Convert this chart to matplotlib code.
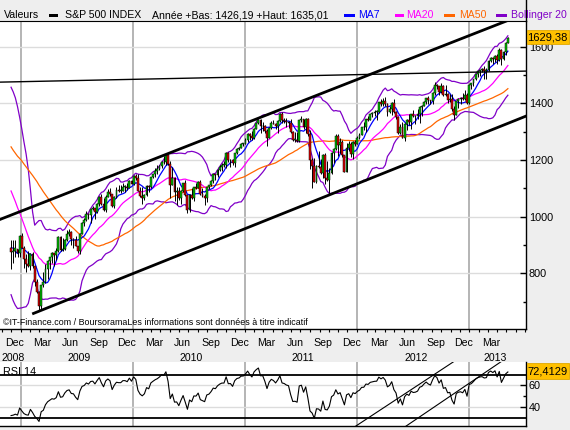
import numpy as np
import pandas as pd
import matplotlib
matplotlib.use('Agg')
import matplotlib.pyplot as plt
import matplotlib.dates as mdates
from matplotlib.patches import Rectangle
from matplotlib.lines import Line2D

plt.rcParams['font.family'] = ['Liberation Sans', 'DejaVu Sans']

# ---------------- data (weekly S&P 500) ----------------
first_week = '2008-12-01'
# closes before the visible window (used only to warm up the indicators)
hist_closes = [1510, 1454, 1459, 1441, 1481, 1505, 1468, 1484, 1478,
               1412, 1401, 1325, 1331, 1395, 1331, 1350, 1353, 1331, 1293, 1288, 1330,
               1315, 1370, 1333, 1390, 1398, 1414, 1388, 1425, 1376, 1400, 1361, 1360,
               1318, 1278, 1263, 1239, 1261, 1258, 1260, 1296, 1298, 1292, 1283, 1242,
               1252, 1255, 1213, 1099, 899, 941, 877, 969, 931, 873, 800, 896]

opens = [888, 876, 880, 887,
         873, 932, 890, 850, 832, 826, 869, 827, 770, 735, 683, 757, 769, 816, 843, 857, 870, 866,
         878, 929, 883, 887, 919, 940, 946, 921, 919, 896, 879, 940, 979, 987, 1010, 1004, 1026,
         1029, 1016, 1043, 1068, 1044, 1025, 1071, 1088, 1080, 1036, 1069, 1093, 1091, 1091, 1106,
         1106, 1102, 1126,
         1115, 1145, 1136, 1092, 1074, 1066, 1076, 1109, 1104, 1139, 1150, 1160, 1167, 1178, 1194,
         1192, 1217, 1187, 1111, 1136, 1088, 1089, 1065, 1092, 1118, 1077, 1023, 1078, 1065, 1103,
         1102, 1122, 1079, 1072, 1065, 1105, 1110, 1126, 1149, 1146, 1165, 1176, 1183, 1183, 1226,
         1199, 1200, 1189, 1225, 1240, 1244, 1257,
         1258, 1272, 1293, 1283, 1276, 1311, 1329, 1343, 1320, 1321, 1304, 1279, 1314, 1332, 1328,
         1320, 1337, 1364, 1340, 1338, 1333, 1331, 1300, 1271, 1272, 1268, 1340, 1344, 1316, 1345,
         1292, 1199, 1179, 1124, 1177, 1174, 1154, 1216, 1136, 1131, 1155, 1225, 1238, 1285, 1253,
         1264, 1216, 1159, 1244, 1255, 1220, 1265,
         1258, 1278, 1289, 1315, 1316, 1345, 1343, 1361, 1366, 1370, 1371, 1404, 1397, 1408, 1398,
         1370, 1379, 1403, 1369, 1353, 1295, 1318, 1278, 1326, 1343, 1335, 1362, 1355, 1357, 1363,
         1386, 1391, 1406, 1418, 1411, 1407, 1438, 1466, 1460, 1441, 1461, 1429, 1433, 1412, 1414,
         1380, 1360, 1409, 1416, 1418, 1414, 1430,
         1402, 1466, 1472, 1486, 1503, 1513, 1518, 1520, 1516, 1518, 1551, 1561, 1557, 1569, 1553,
         1589, 1555, 1582, 1614]

highs = [918, 916, 918, 887,
         934, 943, 896, 868, 877, 870, 876, 827, 780, 736, 759, 804, 832, 845, 857, 876, 871, 888,
         930, 931, 924, 920, 951, 956, 948, 925, 931, 897, 943, 980, 996, 1019, 1013, 1027, 1039,
         1031, 1048, 1074, 1080, 1065, 1076, 1097, 1101, 1081, 1072, 1106, 1113, 1112, 1120, 1110,
         1117, 1128, 1130,
         1147, 1150, 1150, 1103, 1104, 1080, 1112, 1112, 1140, 1151, 1170, 1181, 1181, 1195, 1214,
         1218, 1220, 1197, 1174, 1141, 1104, 1106, 1094, 1120, 1131, 1078, 1080, 1100, 1105, 1120,
         1127, 1130, 1100, 1081, 1106, 1113, 1131, 1150, 1151, 1168, 1184, 1189, 1196, 1228, 1228,
         1203, 1205, 1226, 1241, 1247, 1259, 1260,
         1278, 1294, 1297, 1302, 1312, 1330, 1344, 1345, 1333, 1323, 1308, 1315, 1338, 1340, 1331,
         1341, 1366, 1371, 1349, 1347, 1337, 1346, 1302, 1298, 1298, 1341, 1356, 1346, 1347, 1347,
         1307, 1208, 1208, 1182, 1230, 1205, 1220, 1224, 1195, 1171, 1227, 1242, 1293, 1292, 1277,
         1270, 1219, 1260, 1267, 1265, 1268, 1269,
         1284, 1296, 1317, 1333, 1346, 1355, 1363, 1368, 1378, 1375, 1406, 1414, 1419, 1422, 1400,
         1391, 1406, 1416, 1372, 1356, 1328, 1335, 1330, 1345, 1364, 1364, 1375, 1359, 1380, 1390,
         1394, 1408, 1419, 1426, 1413, 1440, 1475, 1470, 1463, 1471, 1465, 1464, 1437, 1434, 1434,
         1389, 1410, 1420, 1424, 1438, 1448, 1436,
         1467, 1473, 1487, 1504, 1514, 1519, 1525, 1531, 1525, 1553, 1564, 1564, 1570, 1573, 1597,
         1593, 1585, 1618, 1635]

lows = [815, 837, 856, 857,
        857, 888, 818, 804, 821, 812, 818, 754, 730, 667, 672, 750, 767, 780, 814, 835, 826, 845,
        876, 878, 877, 881, 915, 930, 900, 889, 895, 870, 869, 938, 968, 985, 990, 979, 1022,
        992, 1014, 1037, 1041, 1020, 1018, 1068, 1074, 1034, 1030, 1067, 1086, 1083, 1089, 1088,
        1093, 1100, 1115,
        1113, 1131, 1090, 1071, 1045, 1057, 1074, 1086, 1102, 1135, 1141, 1150, 1165, 1170, 1186,
        1182, 1181, 1065, 1110, 1056, 1040, 1060, 1043, 1087, 1072, 1011, 1018, 1063, 1056, 1099,
        1100, 1076, 1068, 1040, 1050, 1096, 1108, 1120, 1131, 1141, 1160, 1160, 1175, 1172, 1194,
        1174, 1182, 1174, 1220, 1235, 1242, 1250,
        1256, 1262, 1271, 1270, 1274, 1309, 1326, 1295, 1303, 1294, 1249, 1277, 1308, 1326, 1309,
        1294, 1335, 1329, 1329, 1318, 1312, 1297, 1268, 1262, 1263, 1265, 1333, 1309, 1295, 1283,
        1168, 1101, 1121, 1120, 1170, 1150, 1136, 1114, 1127, 1075, 1150, 1191, 1234, 1215, 1226,
        1209, 1158, 1158, 1231, 1209, 1202, 1248,
        1255, 1274, 1287, 1306, 1300, 1336, 1340, 1352, 1355, 1340, 1366, 1391, 1391, 1392, 1357,
        1365, 1358, 1367, 1344, 1292, 1292, 1277, 1267, 1306, 1324, 1309, 1353, 1326, 1345, 1329,
        1354, 1389, 1397, 1398, 1397, 1396, 1428, 1449, 1430, 1438, 1425, 1426, 1403, 1405, 1373,
        1343, 1358, 1385, 1398, 1412, 1412, 1398,
        1398, 1452, 1460, 1484, 1492, 1495, 1512, 1485, 1485, 1514, 1547, 1538, 1546, 1539, 1548,
        1537, 1552, 1570, 1612]

closes = [876, 880, 888, 873,
          932, 890, 850, 832, 826, 869, 827, 770, 735, 683, 757, 769, 816, 843, 857, 870, 866, 878,
          929, 883, 887, 919, 940, 946, 921, 919, 896, 879, 940, 979, 987, 1010, 1004, 1026, 1029,
          1016, 1043, 1068, 1044, 1025, 1071, 1088, 1080, 1036, 1069, 1093, 1091, 1091, 1106, 1106,
          1102, 1126, 1115,
          1145, 1136, 1092, 1074, 1066, 1076, 1109, 1104, 1139, 1150, 1160, 1167, 1178, 1194, 1192,
          1217, 1187, 1111, 1136, 1088, 1089, 1065, 1092, 1118, 1077, 1023, 1078, 1065, 1103, 1102,
          1122, 1079, 1072, 1065, 1105, 1110, 1126, 1149, 1146, 1165, 1176, 1183, 1183, 1226, 1199,
          1200, 1189, 1225, 1240, 1244, 1257, 1258,
          1272, 1293, 1283, 1276, 1311, 1329, 1343, 1320, 1321, 1304, 1279, 1314, 1332, 1328, 1320,
          1337, 1364, 1340, 1338, 1333, 1331, 1300, 1271, 1272, 1268, 1340, 1344, 1316, 1345, 1292,
          1199, 1179, 1124, 1177, 1174, 1154, 1216, 1136, 1131, 1155, 1225, 1238, 1285, 1253, 1264,
          1216, 1159, 1244, 1255, 1220, 1265, 1258,
          1278, 1289, 1315, 1316, 1345, 1343, 1361, 1366, 1370, 1371, 1404, 1397, 1408, 1398, 1370,
          1379, 1403, 1369, 1353, 1295, 1318, 1278, 1326, 1343, 1335, 1362, 1355, 1357, 1363, 1386,
          1391, 1406, 1418, 1411, 1407, 1438, 1466, 1460, 1441, 1461, 1429, 1433, 1412, 1414, 1380,
          1360, 1409, 1416, 1418, 1414, 1430, 1402,
          1466, 1472, 1486, 1503, 1513, 1518, 1520, 1516, 1518, 1551, 1561, 1557, 1569, 1553, 1589,
          1555, 1582, 1614, 1629.38]

# hand-drawn trend lines (date, value)
upper_line_dates = ['2008-10-26', '2013-07-04']
upper_line_values = [990, 1718]
lower_line_dates = ['2009-02-12', '2013-07-04']
lower_line_values = [658, 1355]
resist_line_dates = ['2008-10-26', '2013-07-04']
resist_line_values = [1475, 1514]
rsi_line1_dates = ['2011-12-14', '2012-11-22']
rsi_line1_values = [20, 84]
rsi_line2_dates = ['2012-05-26', '2013-04-25']
rsi_line2_values = [20, 84]

price_ticks = [800, 1000, 1200, 1400, 1600]
rsi_ticks = [40, 60]
year_lines = ['2009-01-01', '2010-01-01', '2011-01-01', '2012-01-01', '2013-01-01']
month_labels = ['Dec', 'Mar', 'Jun', 'Sep'] * 4 + ['Dec', 'Mar']
month_label_dates = pd.date_range('2008-12-01', '2013-03-01', freq='3MS')
year_labels = ['2008', '2009', '2010', '2011', '2012', '2013']
year_label_dates = ['2008-12-07', '2009-07-10', '2010-07-10', '2011-07-10', '2012-07-10', '2013-03-25']

legend_title = 'Valeurs'
series_name = 'S&P 500 INDEX'
year_info = 'Année +Bas: 1426,19 +Haut: 1635,01'
last_price = '1629,38'
last_rsi = '72,4129'
watermark = '©IT-Finance.com / BoursoramaLes informations sont données à titre indicatif'

# ---------------- indicators ----------------
allc = pd.Series(hist_closes + closes, dtype=float)
n0 = len(hist_closes)
ma7 = allc.rolling(7).mean().values[n0:]
ma20 = allc.rolling(20).mean().values[n0:]
sd20 = allc.rolling(20).std(ddof=0).values[n0:]
ma50 = allc.rolling(50).mean().values[n0:]
dlt = allc.diff()
ag = dlt.clip(lower=0).ewm(alpha=1 / 14, adjust=False).mean()
al = (-dlt).clip(lower=0).ewm(alpha=1 / 14, adjust=False).mean()
rsi = (100 - 100 / (1 + ag / al)).values[n0:]

# ---------------- figure ----------------
W, H = 570, 430
fig = plt.figure(figsize=(W / 100, H / 100), dpi=100)
fig.patch.set_facecolor('#eeeeee')


def fxp(px):
    return px / W


def fyp(py):
    return 1 - py / H


ax = fig.add_axes([0, fyp(329), fxp(526), (329 - 20.7) / H])
rax = fig.add_axes([0, fyp(426), fxp(526), (426 - 362.3) / H])

d2n = lambda s: mdates.datestr2num(s)
xmin, xmax = d2n('2008-10-26'), d2n('2013-07-04')
dates = mdates.date2num(pd.date_range(first_week, periods=len(closes), freq='7D').to_pydatetime())

o = np.array(opens, float)
c = np.array(closes, float)
h = np.array(highs, float)
l = np.array(lows, float)

for a in (ax, rax):
    a.set_facecolor('white')
    a.set_xlim(xmin, xmax)
    for yl in year_lines:
        a.axvline(d2n(yl), color='#a8a8a8', lw=1.2, zorder=1)
    a.spines['left'].set_visible(False)
    a.spines['top'].set_visible(False)
    for s in ('right', 'bottom'):
        a.spines[s].set_color('black')
        a.spines[s].set_linewidth(1)

ax.spines['top'].set_visible(True)
ax.spines['top'].set_color('black')

ax.set_ylim(603, 1692)
for v in price_ticks:
    ax.axhline(v, color='#dcdcdc', lw=1, zorder=1)

# indicators
ax.plot(dates, ma20 + 2 * sd20, color='#8000c8', lw=0.9, zorder=2)
ax.plot(dates, ma20 - 2 * sd20, color='#8000c8', lw=0.9, zorder=2)
ax.plot(dates, ma50, color='#ff6600', lw=0.9, zorder=2)
ax.plot(dates, ma20, color='#ff00ff', lw=0.9, zorder=2)
ax.plot(dates, ma7, color='#0000ff', lw=0.9, zorder=2)

# candles
ax.vlines(dates, l, h, color='black', lw=0.7, zorder=3)
cols = np.where(c >= o, '#00c000', '#e00000')
ax.bar(dates, np.maximum(np.abs(c - o), 1.5), bottom=np.minimum(o, c), width=6.0,
       color=cols, edgecolor='black', linewidth=0.35, zorder=4)

# trend lines
ax.plot(mdates.datestr2num(upper_line_dates), upper_line_values, color='black', lw=2.0, zorder=5)
ax.plot(mdates.datestr2num(lower_line_dates), lower_line_values, color='black', lw=2.0, zorder=5)
ax.plot(mdates.datestr2num(resist_line_dates), resist_line_values, color='black', lw=1.0, zorder=5)

# axes ticks
ax.yaxis.tick_right()
ax.set_yticks(price_ticks)
ax.set_yticklabels([str(v) for v in price_ticks])
ax.set_yticks([v + 100 for v in price_ticks[:-1]] + [700], minor=True)
ax.tick_params(axis='y', which='major', direction='in', length=4, width=1, labelsize=7.8, pad=2)
ax.tick_params(axis='y', which='minor', direction='in', length=2.5, width=1)
month_ticks = mdates.date2num(pd.date_range('2008-11-01', '2013-07-01', freq='MS').to_pydatetime())
ax.set_xticks(month_ticks)
ax.set_xticks([], minor=True)
ax.tick_params(axis='x', which='major', direction='out', length=2.5, width=0.8,
               labelbottom=False)

xt = ax.get_xaxis_transform()
y_month = -(343 - 329) / (329 - 20.7)
y_year = -(358 - 329) / (329 - 20.7)
for lab, dte in zip(month_labels, month_label_dates):
    ax.text(mdates.date2num(dte.to_pydatetime()) + 12, y_month, lab, transform=xt,
            ha='center', va='center', fontsize=7.6)
for lab, dte in zip(year_labels, year_label_dates):
    ax.text(d2n(dte), y_year, lab, transform=xt, ha='center', va='center', fontsize=7.6)

ax.text(3 / 526, (329 - 322.5) / (329 - 20.7), watermark, transform=ax.transAxes,
        ha='left', va='center', fontsize=6.4, zorder=6)

# ---------------- RSI ----------------
rax.set_ylim(22.7, 81.3)
for v in rsi_ticks:
    rax.axhline(v, color='#dcdcdc', lw=1, zorder=1)
rax.axhline(70, color='black', lw=1.3, zorder=3)
rax.axhline(30, color='black', lw=1.3, zorder=3)
rax.plot(dates, rsi, color='black', lw=0.8, zorder=4)
rax.plot(mdates.datestr2num(rsi_line1_dates), rsi_line1_values, color='black', lw=0.8, zorder=4)
rax.plot(mdates.datestr2num(rsi_line2_dates), rsi_line2_values, color='black', lw=0.8, zorder=4)
rax.yaxis.tick_right()
rax.set_yticks(rsi_ticks)
rax.set_yticklabels([str(v) for v in rsi_ticks])
rax.set_yticks([50], minor=True)
rax.tick_params(axis='y', which='major', direction='in', length=4, width=1, labelsize=7.8, pad=2)
rax.tick_params(axis='y', which='minor', direction='in', length=2.5, width=1)
rax.set_xticks([])
rax.text(3 / 526, (426 - 372.3) / (426 - 362.3), 'RSI 14', transform=rax.transAxes,
         ha='left', va='center', fontsize=7.8, zorder=5)

# ---------------- legend row ----------------
yl = fyp(15)
fs = 7.6
fig.text(fxp(3.6), yl, legend_title, ha='left', va='center', fontsize=fs)
items = [(49, 58, 'black', None, None),
         (344, 355, '#0000ff', 358, 'MA7'),
         (395, 404, '#ff00ff', 406, 'MA20'),
         (444, 455, '#ff6600', 459, 'MA50'),
         (496, 507, '#8000c8', 511, 'Bollinger 20')]
for x0, x1, col, tx, lab in items:
    fig.add_artist(Rectangle((fxp(x0), fyp(17)), fxp(x1 - x0), 3.5 / H,
                             transform=fig.transFigure, facecolor=col, edgecolor='none'))
    if lab:
        fig.text(fxp(tx), yl, lab, ha='left', va='center', fontsize=fs, color=col)
fig.text(fxp(65), yl, series_name, ha='left', va='center', fontsize=fs)
fig.text(fxp(152), yl, year_info, ha='left', va='center', fontsize=fs)
fig.add_artist(Line2D([fxp(526), fxp(526)], [fyp(20.7), 1.0], transform=fig.transFigure,
                      color='black', lw=1))

# value boxes
for (y0, y1, txt) in [(30, 44, last_price), (363.3, 379, last_rsi)]:
    fig.add_artist(Rectangle((fxp(527), fyp(y1)), fxp(41.5), (y1 - y0) / H,
                             transform=fig.transFigure, facecolor='#ffc000',
                             edgecolor='#e0a800', lw=0.6, zorder=10))
    fig.text(fxp(547.5), fyp((y0 + y1) / 2), txt, ha='center', va='center',
             fontsize=8, zorder=11)

fig.savefig('out.png', dpi=100, facecolor=fig.get_facecolor())
